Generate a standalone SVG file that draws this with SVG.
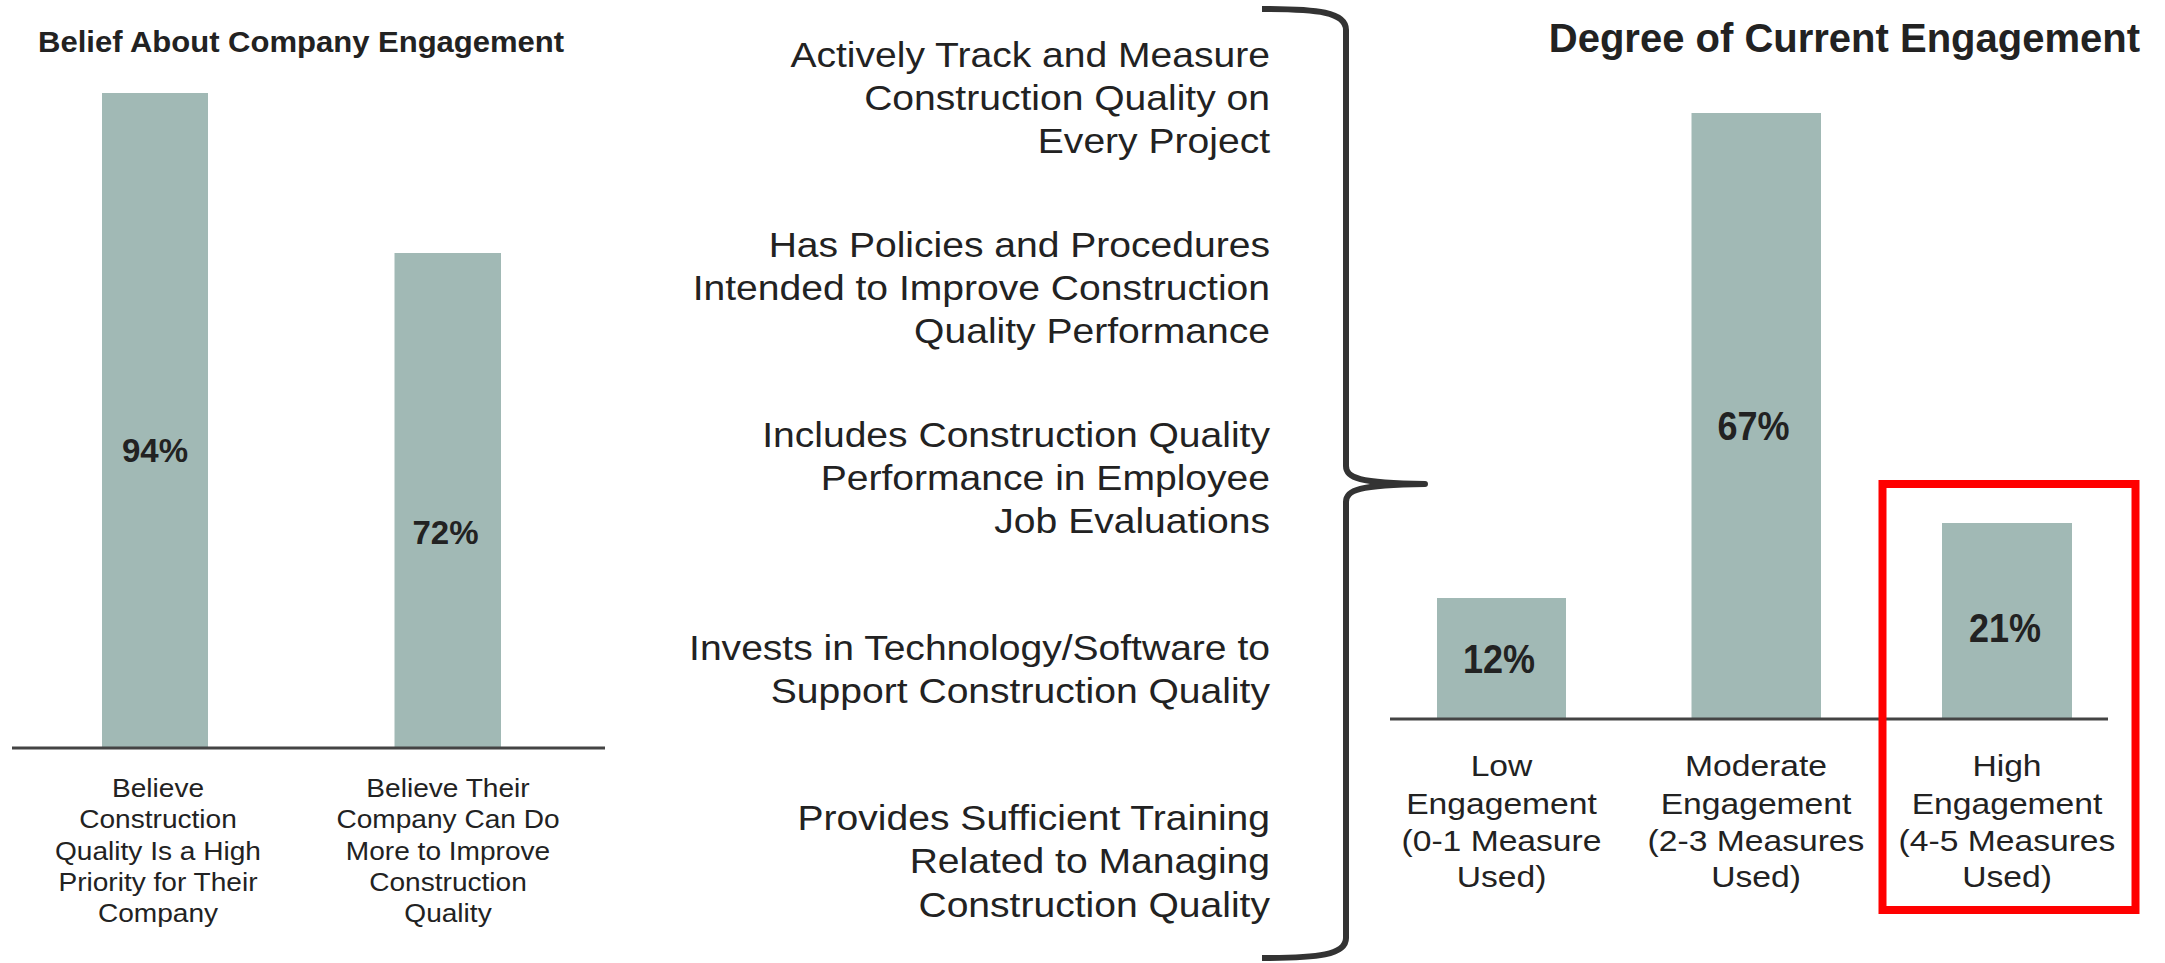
<svg xmlns="http://www.w3.org/2000/svg" width="2165" height="963" viewBox="0 0 2165 963">
<style>
text{font-family:"Liberation Sans",Arial,sans-serif;fill:#222;}
.title{font-weight:bold;}
.pct{font-weight:bold;text-anchor:middle;}
.lbl{text-anchor:middle;}
.mid{text-anchor:end;font-size:36px;}
.bar{fill:#a1b9b5;}
.axis{stroke:#444;stroke-width:3;fill:none;}
.brace{stroke:#333;stroke-width:6;fill:none;stroke-linecap:butt;stroke-linejoin:round;}
.hl{stroke:#ff0000;stroke-width:8;fill:none;}
</style>
<rect width="2165" height="963" fill="#fff"/>

<g id="left-chart">
  <text class="title" font-size="29" transform="translate(38,52) scale(1.07,1)">Belief About Company Engagement</text>
  <g id="bar-94">
    <rect class="bar" x="102" y="93" width="106" height="655"/>
    <text class="pct" font-size="33" x="155" y="461.5">94%</text>
    <g transform="translate(158,0) scale(1.08,1)">
      <text class="lbl" font-size="26"><tspan x="0" y="797">Believe</tspan><tspan x="0" y="828.5">Construction</tspan><tspan x="0" y="860">Quality Is a High</tspan><tspan x="0" y="891">Priority for Their</tspan><tspan x="0" y="922">Company</tspan></text>
    </g>
  </g>
  <g id="bar-72">
    <rect class="bar" x="394.5" y="253" width="106.5" height="495"/>
    <text class="pct" font-size="33" x="445.5" y="544">72%</text>
    <g transform="translate(448,0) scale(1.08,1)">
      <text class="lbl" font-size="26"><tspan x="0" y="797">Believe Their</tspan><tspan x="0" y="828.5">Company Can Do</tspan><tspan x="0" y="860">More to Improve</tspan><tspan x="0" y="891">Construction</tspan><tspan x="0" y="922">Quality</tspan></text>
    </g>
  </g>
  <line class="axis" x1="12" y1="748" x2="605" y2="748"/>
</g>

<g id="measures" transform="translate(1270,0) scale(1.085,1)">
  <g id="m1"><text class="mid"><tspan x="0" y="66.7">Actively Track and Measure</tspan><tspan x="0" y="110">Construction Quality on</tspan><tspan x="0" y="153.3">Every Project</tspan></text></g>
  <g id="m2"><text class="mid"><tspan x="0" y="256.7">Has Policies and Procedures</tspan><tspan x="0" y="300">Intended to Improve Construction</tspan><tspan x="0" y="343.3">Quality Performance</tspan></text></g>
  <g id="m3"><text class="mid"><tspan x="0" y="446.7">Includes Construction Quality</tspan><tspan x="0" y="490">Performance in Employee</tspan><tspan x="0" y="533.3">Job Evaluations</tspan></text></g>
  <g id="m4"><text class="mid"><tspan x="0" y="660">Invests in Technology/Software to</tspan><tspan x="0" y="703.3">Support Construction Quality</tspan></text></g>
  <g id="m5"><text class="mid"><tspan x="0" y="830">Provides Sufficient Training</tspan><tspan x="0" y="873.3">Related to Managing</tspan><tspan x="0" y="916.7">Construction Quality</tspan></text></g>
</g>

<g id="connectors">
  <path class="brace" d="M1262,9 C1318,9 1346,12 1346,30 L1346,466 C1346,478 1358,483 1425,484 C1358,485 1346,490 1346,502 L1346,938 C1346,955 1318,958 1262,958"/>
</g>

<g id="right-chart">
  <text class="title" font-size="40" x="2140" y="52" text-anchor="end">Degree of Current Engagement</text>
  <g id="bar-low">
    <rect class="bar" x="1437" y="598" width="129" height="121"/>
    <text class="pct" font-size="40" transform="translate(1499,673) scale(0.9,1)">12%</text>
    <g transform="translate(1501.5,0) scale(1.16,1)">
      <text class="lbl" font-size="29"><tspan x="0" y="776">Low</tspan><tspan x="0" y="814">Engagement</tspan><tspan x="0" y="851">(0-1 Measure</tspan><tspan x="0" y="887">Used)</tspan></text>
    </g>
  </g>
  <g id="bar-moderate">
    <rect class="bar" x="1691.5" y="113" width="129.5" height="606"/>
    <text class="pct" font-size="40" transform="translate(1753.5,440) scale(0.9,1)">67%</text>
    <g transform="translate(1756,0) scale(1.16,1)">
      <text class="lbl" font-size="29"><tspan x="0" y="776">Moderate</tspan><tspan x="0" y="814">Engagement</tspan><tspan x="0" y="851">(2-3 Measures</tspan><tspan x="0" y="887">Used)</tspan></text>
    </g>
  </g>
  <g id="bar-high">
    <rect class="bar" x="1942" y="523" width="130" height="196"/>
    <text class="pct" font-size="40" transform="translate(2005,642) scale(0.9,1)">21%</text>
    <g transform="translate(2007,0) scale(1.16,1)">
      <text class="lbl" font-size="29"><tspan x="0" y="776">High</tspan><tspan x="0" y="814">Engagement</tspan><tspan x="0" y="851">(4-5 Measures</tspan><tspan x="0" y="887">Used)</tspan></text>
    </g>
  </g>
  <line class="axis" x1="1390" y1="719" x2="2108" y2="719"/>
  <rect id="highlight" class="hl" x="1882.5" y="484" width="253" height="426"/>
</g>
</svg>
